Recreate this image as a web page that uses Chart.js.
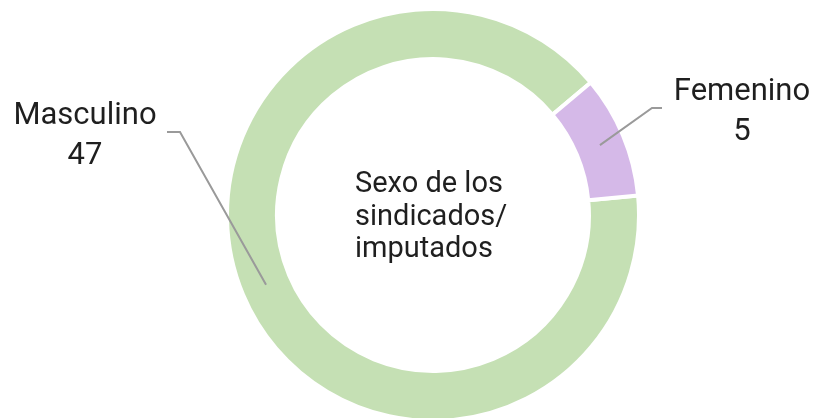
<!DOCTYPE html>
<html>
<head>
<meta charset="utf-8">
<script src="https://cdn.jsdelivr.net/npm/chart.js@4.4.1/dist/chart.umd.min.js"></script>
<style>
html,body{margin:0;padding:0;background:#fff;}
#wrap{width:816px;height:418px;position:relative;}
</style>
</head>
<body>
<div id="wrap"><canvas id="c"></canvas></div>
<script>
const categories = ['Masculino', 'Femenino'];
const values = [47, 5];
const colors = ['#c5e0b4', '#d5b9e8'];
const centerLines = ['Sexo de los', 'sindicados/', 'imputados'];

const FONT = 'Roboto, sans-serif';
const TEXT = '#1f1f1f';

// label layout: elbow/end points of leader lines and text anchors
const labelLayout = [
  {elbow: [180, 132], end: [167, 132], text: [85, 124]},
  {elbow: [652, 108], end: [662, 108], text: [742, 100]}
];

const labelsPlugin = {
  id: 'leaderLabels',
  afterDatasetsDraw(chart) {
    const ctx = chart.ctx;
    const meta = chart.getDatasetMeta(0);
    ctx.save();
    meta.data.forEach((arc, i) => {
      const p = arc.tooltipPosition();
      const L = labelLayout[i];
      ctx.strokeStyle = '#9a9a9a';
      ctx.lineWidth = 2;
      ctx.beginPath();
      ctx.moveTo(p.x, p.y);
      ctx.lineTo(L.elbow[0], L.elbow[1]);
      ctx.lineTo(L.end[0], L.end[1]);
      ctx.stroke();
      ctx.fillStyle = TEXT;
      ctx.font = '31px ' + FONT;
      ctx.textAlign = 'center';
      ctx.textBaseline = 'alphabetic';
      ctx.fillText(chart.data.labels[i], L.text[0], L.text[1]);
      ctx.fillText(String(chart.data.datasets[0].data[i]), L.text[0], L.text[1] + 40);
    });
    // center text
    const cx = (chart.chartArea.left + chart.chartArea.right) / 2;
    const cy = (chart.chartArea.top + chart.chartArea.bottom) / 2;
    ctx.textAlign = 'left';
    ctx.font = '29px ' + FONT;
    ctx.fillStyle = TEXT;
    centerLines.forEach((t, k) => {
      ctx.fillText(t, cx - 78, cy - 23 + k * 32.5);
    });
    ctx.restore();
  }
};

new Chart(document.getElementById('c'), {
  type: 'doughnut',
  data: {
    labels: categories,
    datasets: [{
      data: values,
      backgroundColor: colors,
      borderColor: '#ffffff',
      borderWidth: 4,
      hoverOffset: 0
    }]
  },
  options: {
    responsive: true,
    maintainAspectRatio: false,
    animation: false,
    rotation: 84.6,
    radius: 206,
    cutout: '75.7%',
    layout: {padding: {left: 50, top: 12, right: 0, bottom: 0}},
    plugins: {
      legend: {display: false},
      tooltip: {enabled: false}
    }
  },
  plugins: [labelsPlugin]
});
</script>
</body>
</html>
